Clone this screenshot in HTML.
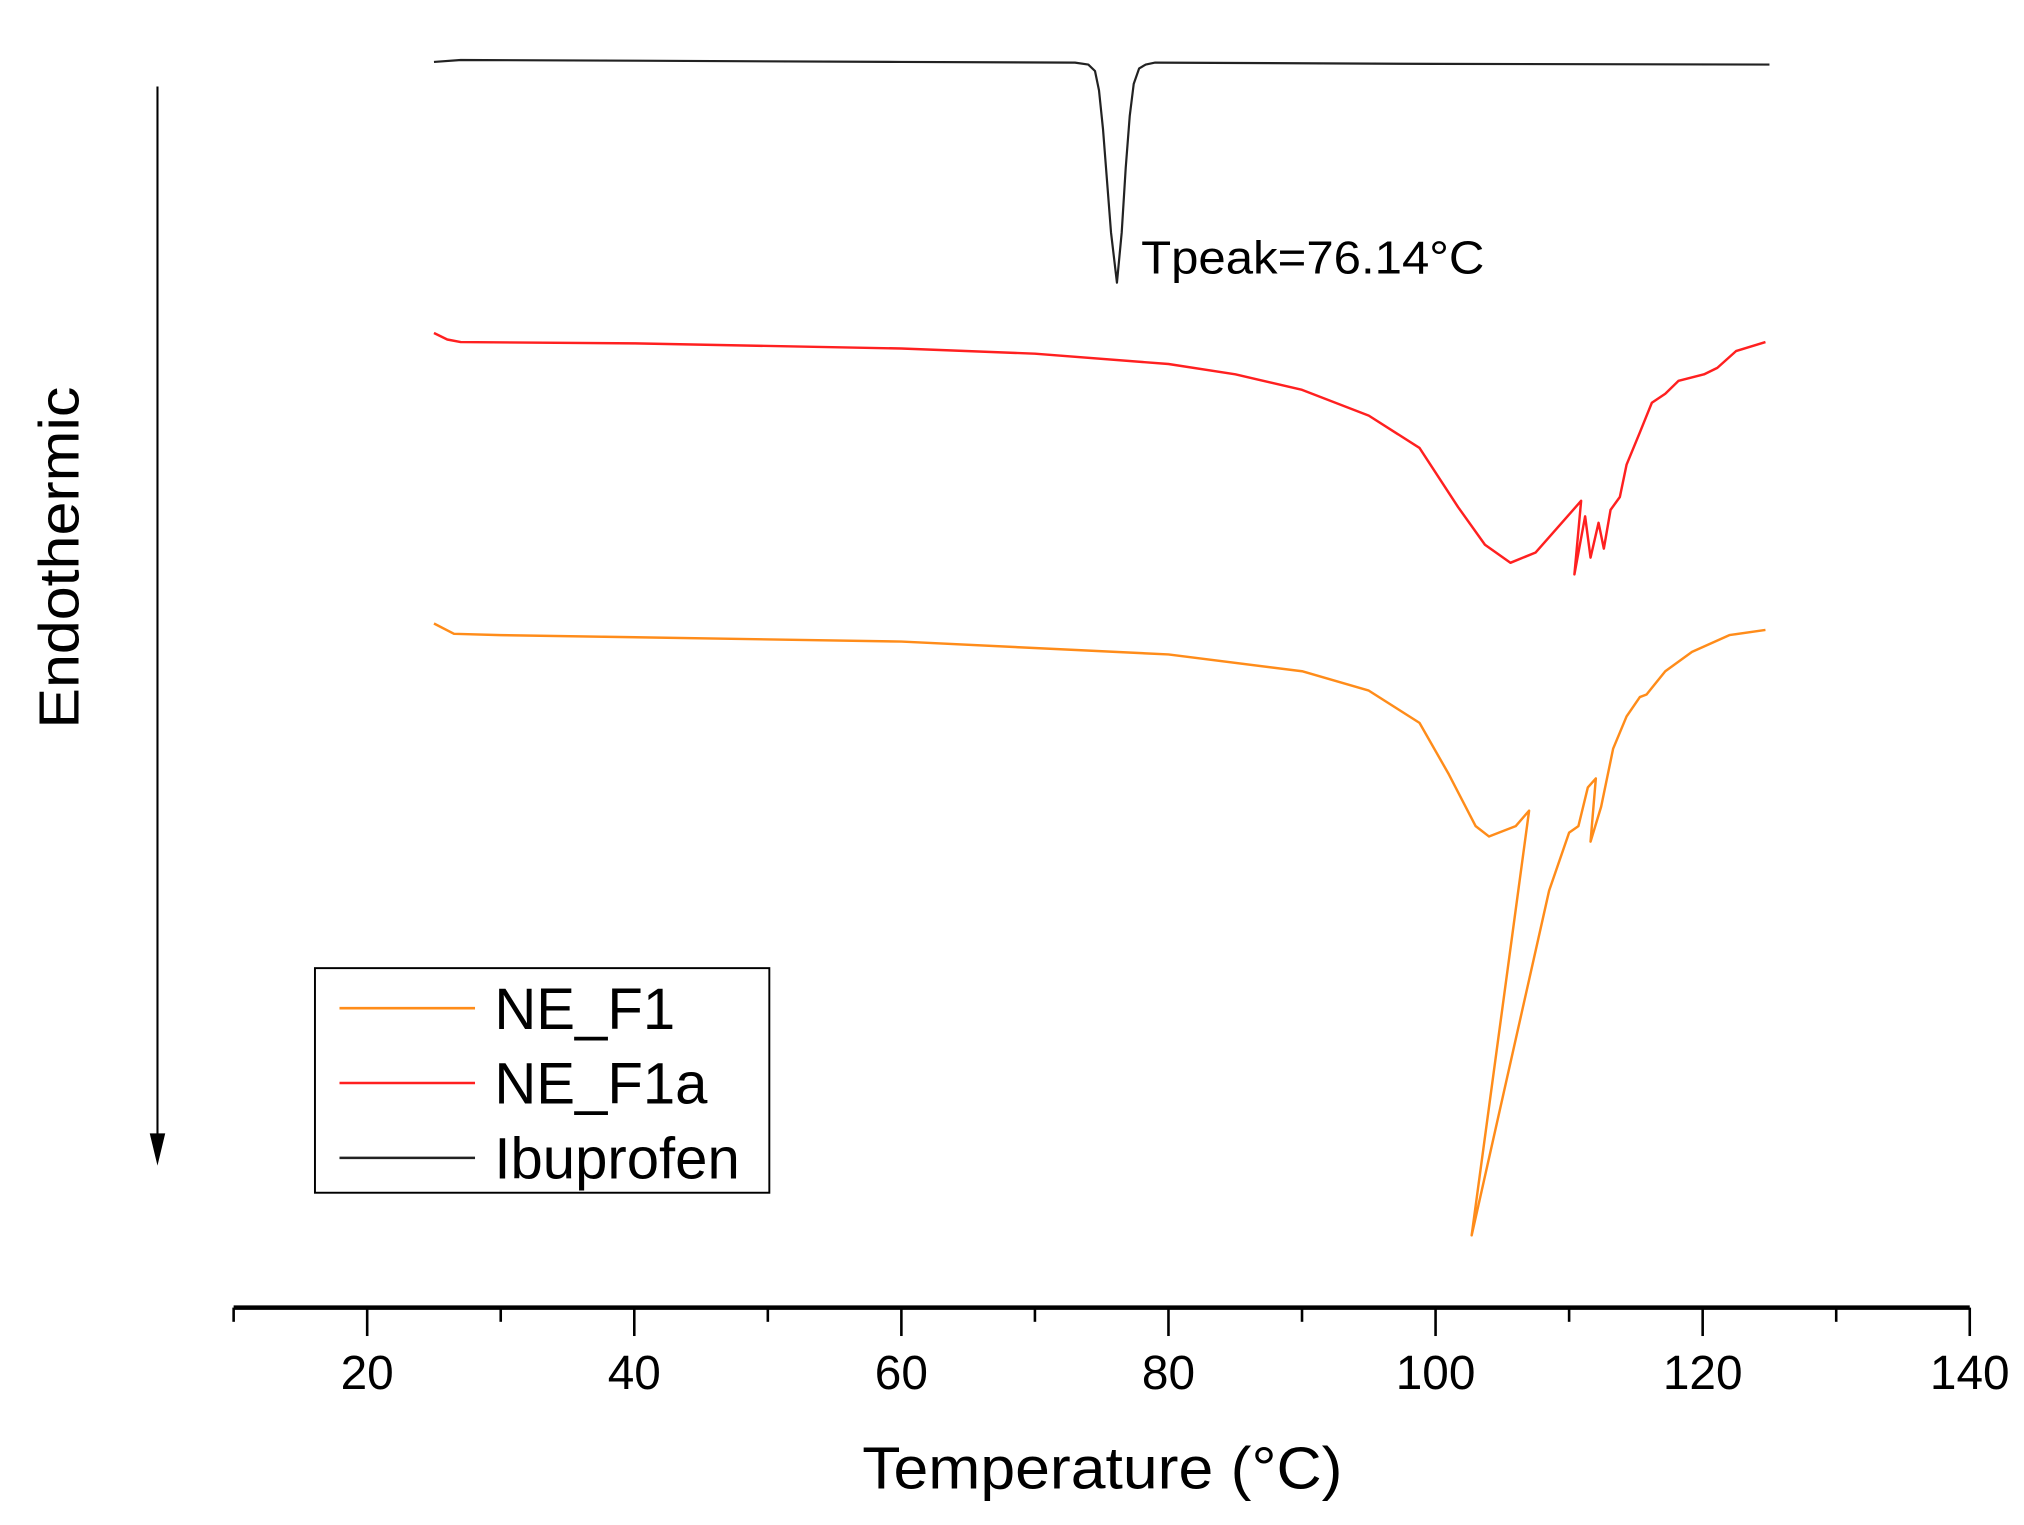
<!DOCTYPE html>
<html><head><meta charset="utf-8"><style>
html,body{margin:0;padding:0;background:#fff;}
svg{display:block;font-family:"Liberation Sans",Arial,sans-serif;}
</style></head><body>
<svg id="chart" width="2024" height="1525" viewBox="0 0 1568 1181.4" preserveAspectRatio="none" xmlns="http://www.w3.org/2000/svg">
<rect x="0" y="0" width="1568" height="1181.4" fill="#fff"/>
<g id="axis"></g>
<g id="series"></g>
<line x1="122" y1="67" x2="122" y2="885" stroke="#000" stroke-width="1.6"/>
<polygon points="116,878 128,878 122,903" fill="#000"/>
<text transform="translate(61,432) rotate(-90)" text-anchor="middle" font-size="44" textLength="265" lengthAdjust="spacingAndGlyphs">Endothermic</text>
<text x="854" y="1153" text-anchor="middle" font-size="46" textLength="372" lengthAdjust="spacingAndGlyphs">Temperature (°C)</text>
<text x="884" y="212" font-size="36" textLength="266" lengthAdjust="spacingAndGlyphs">Tpeak=76.14°C</text>
<g>
<rect x="244" y="750" width="352" height="174" fill="#fff" stroke="#000" stroke-width="1.5"/>
<line x1="263" y1="781" x2="368" y2="781" stroke="#ff8c1a" stroke-width="2"/>
<text x="383" y="797" font-size="45">NE_F1</text>
<line x1="263" y1="839" x2="368" y2="839" stroke="#ff2020" stroke-width="2"/>
<text x="383" y="855" font-size="45">NE_F1a</text>
<line x1="263" y1="897" x2="368" y2="897" stroke="#222" stroke-width="2"/>
<text x="383" y="913" font-size="45">Ibuprofen</text>
</g>
</svg>
<script>
// Temperature (°C) and heat flow (arbitrary units, endo down)
const ibuT = [25,27,40,60,73,74,74.5,74.8,75.1,75.4,75.7,76.14,76.5,76.8,77.1,77.4,77.8,78.3,79,100,125];
const ibuHF = [9.52,9.535,9.53,9.52,9.515,9.5,9.45,9.3,9.0,8.6,8.2,7.81,8.2,8.7,9.1,9.35,9.47,9.5,9.515,9.505,9.5];
const f1aT = [25,26,27,40,60,70,80,85,90,95,98.8,101.7,103.7,105.6,107.5,110.9,110.4,111.2,111.6,112.2,112.6,113.1,113.8,114.3,115.3,116.2,117.2,118.2,120.1,121.1,122.5,124.7];
const f1aHF = [7.42,7.37,7.35,7.34,7.30,7.26,7.18,7.10,6.98,6.78,6.53,6.07,5.78,5.64,5.72,6.12,5.55,6.0,5.68,5.95,5.75,6.05,6.15,6.4,6.65,6.88,6.95,7.05,7.10,7.15,7.28,7.35];
const f1T = [25,26.5,30,60,80,90,95,98.8,101,103,104,106,107,102.7,108.5,110,110.7,111.4,112,111.6,112.4,113.3,114.3,115.3,115.8,117.2,119.2,122,124.7];
const f1HF = [5.17,5.09,5.08,5.03,4.93,4.80,4.65,4.40,4.00,3.60,3.52,3.60,3.72,0.43,3.10,3.55,3.60,3.90,3.97,3.48,3.75,4.20,4.45,4.60,4.62,4.80,4.95,5.08,5.12];
const xTicks = [20,40,60,80,100,120,140];
const xMinor = [10,30,50,70,90,110,130];

const NS = "http://www.w3.org/2000/svg";
function xs(t){ return 181 + (t - 10) * 10.346; }
function ys(v){ return 1000 - v * 100; }

const axis = document.getElementById('axis');
const base = document.createElementNS(NS,'line');


base.setAttribute('x1',xs(10)); base.setAttribute('x2',xs(140));
base.setAttribute('y1',1013); base.setAttribute('y2',1013);
base.setAttribute('stroke','#000'); base.setAttribute('stroke-width','3.5');
axis.appendChild(base);
xMinor.forEach(t=>{
  const l=document.createElementNS(NS,'line');
  
  
  l.setAttribute('x1',xs(t)); l.setAttribute('x2',xs(t));
  l.setAttribute('y1',1013); l.setAttribute('y2',1024);
  l.setAttribute('stroke','#000'); l.setAttribute('stroke-width','2');
  axis.appendChild(l);
});
xTicks.forEach(t=>{
  const l=document.createElementNS(NS,'line');
  
  
  l.setAttribute('x1',xs(t)); l.setAttribute('x2',xs(t));
  l.setAttribute('y1',1013); l.setAttribute('y2',1035);
  l.setAttribute('stroke','#000'); l.setAttribute('stroke-width','2');
  axis.appendChild(l);
  const tx=document.createElementNS(NS,'text');
  
  
  tx.setAttribute('x',xs(t)); tx.setAttribute('y',1076);
  tx.setAttribute('text-anchor','middle'); tx.setAttribute('font-size','37');
  tx.textContent=t;
  axis.appendChild(tx);
});

const series = document.getElementById('series');
function draw(T,H,color,name,w){
  const p=document.createElementNS(NS,'path');
  
  
  let d='';
  T.forEach((t,i)=>{ d += (i?'L':'M') + xs(t).toFixed(1) + ',' + ys(H[i]).toFixed(1); });
  p.setAttribute('d',d);
  p.setAttribute('fill','none'); p.setAttribute('stroke',color);
  p.setAttribute('stroke-width',w); p.setAttribute('stroke-linejoin','round');
  series.appendChild(p);
}
draw(ibuT,ibuHF,'#222','ibuprofen-line',1.7);
draw(f1aT,f1aHF,'#ff2020','ne-f1a-line',1.9);
draw(f1T,f1HF,'#ff8c1a','ne-f1-line',1.9);
</script>
</body></html>
